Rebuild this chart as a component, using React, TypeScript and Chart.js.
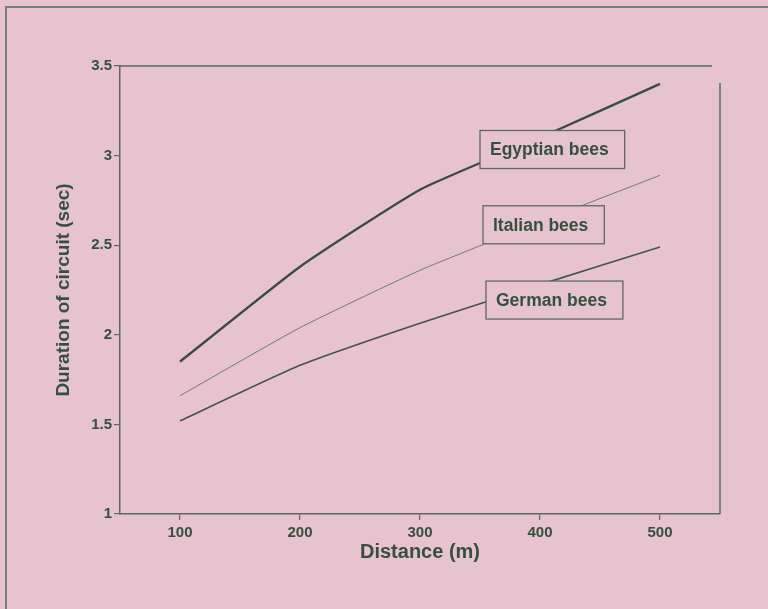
import React, { useEffect, useRef } from "react";
import { Chart, registerables } from "chart.js";

Chart.register(...registerables);

const distances = [100, 200, 300, 400, 500];
const egyptianBees = [1.85, 2.38, 2.81, 3.1, 3.4];
const italianBees = [1.66, 2.04, 2.36, 2.63, 2.89];
const germanBees = [1.52, 1.83, 2.065, 2.28, 2.49];
const xTickValues = [100, 200, 300, 400, 500];
const yTickValues = [1, 1.5, 2, 2.5, 3, 3.5];
const seriesNames = ["Egyptian bees", "Italian bees", "German bees"];
// label box anchors (top-left corner, in data units)
const labelAnchorX = [350, 352.5, 355];
const labelAnchorY = [3.14, 2.72, 2.3];

const PINK = "#e7c3d0";
const INK = "#34503f";
const LINE = "#3b4b43";
const AXIS = "#5a6a62";
const FONT = "'Liberation Sans', Arial, Helvetica, sans-serif";

const decorPlugin = {
  id: "decor",
  beforeDraw(chart: any) {
    const { ctx, width, height } = chart;
    ctx.save();
    ctx.fillStyle = PINK;
    ctx.fillRect(0, 0, width, height);
    ctx.strokeStyle = "#6f827a";
    ctx.lineWidth = 2;
    ctx.beginPath();
    ctx.moveTo(6, height);
    ctx.lineTo(6, 7);
    ctx.lineTo(width, 7);
    ctx.stroke();
    ctx.restore();
  },
  afterDraw(chart: any) {
    const { ctx, chartArea } = chart;
    const xs = chart.scales.x;
    const ys = chart.scales.y;
    ctx.save();
    ctx.strokeStyle = AXIS;
    ctx.lineWidth = 1.5;
    ctx.beginPath();
    ctx.moveTo(chartArea.left, chartArea.top);
    ctx.lineTo(chartArea.right - 8, chartArea.top);
    ctx.moveTo(chartArea.right, chartArea.top + 17);
    ctx.lineTo(chartArea.right, chartArea.bottom);
    ctx.stroke();

    ctx.font = `bold 17.5px ${FONT}`;
    ctx.textBaseline = "middle";
    ctx.textAlign = "left";
    seriesNames.forEach((name, i) => {
      const left = xs.getPixelForValue(labelAnchorX[i]);
      const top = ys.getPixelForValue(labelAnchorY[i]);
      const tw = ctx.measureText(name).width;
      const w = tw + 26;
      const h = 38;
      ctx.fillStyle = PINK;
      ctx.fillRect(left, top, w, h);
      ctx.strokeStyle = "#5a6b62";
      ctx.lineWidth = 1.3;
      ctx.strokeRect(left, top, w, h);
      ctx.fillStyle = INK;
      ctx.fillText(name, left + 10, top + h / 2 + 1);
    });
    ctx.restore();
  },
};

export default function App() {
  const ref = useRef<HTMLCanvasElement | null>(null);
  useEffect(() => {
    if (!ref.current) return;
    const chart = new Chart(ref.current, {
      type: "line",
      data: {
        labels: distances,
        datasets: [
          {
            label: seriesNames[0],
            data: distances.map((d, i) => ({ x: d, y: egyptianBees[i] })),
            borderColor: LINE,
            borderWidth: 2.3,
            pointRadius: 0,
            tension: 0.15,
          },
          {
            label: seriesNames[1],
            data: distances.map((d, i) => ({ x: d, y: italianBees[i] })),
            borderColor: "#6e7c74",
            borderWidth: 1,
            pointRadius: 0,
            tension: 0.15,
          },
          {
            label: seriesNames[2],
            data: distances.map((d, i) => ({ x: d, y: germanBees[i] })),
            borderColor: "#43524a",
            borderWidth: 1.6,
            pointRadius: 0,
            tension: 0.15,
          },
        ],
      },
      options: {
        animation: false,
        responsive: true,
        maintainAspectRatio: false,
        layout: { padding: { left: 0, right: 48, top: 66, bottom: 0 } },
        plugins: { legend: { display: false }, tooltip: { enabled: false } },
        scales: {
          x: {
            type: "linear",
            min: 50,
            max: 550,
            afterBuildTicks: (s: any) => {
              s.ticks = xTickValues.map((v) => ({ value: v }));
            },
            afterFit: (s: any) => {
              s.height = 95;
            },
            border: { display: true, color: AXIS, width: 1.5 },
            grid: { display: true, drawOnChartArea: false, drawTicks: true, tickLength: 6, color: AXIS, lineWidth: 1.2 },
            ticks: {
              color: INK,
              font: { family: FONT, size: 15, weight: "bold" },
              padding: 4,
              maxRotation: 0,
              callback: (v: any) => String(v),
            },
            title: {
              display: true,
              text: "Distance (m)",
              color: INK,
              font: { family: FONT, size: 20, weight: "bold" },
              padding: { top: 0, bottom: 45 },
            },
          },
          y: {
            type: "linear",
            min: 1,
            max: 3.5,
            afterBuildTicks: (s: any) => {
              s.ticks = yTickValues.map((v) => ({ value: v }));
            },
            afterFit: (s: any) => {
              s.width = 120;
            },
            border: { display: true, color: AXIS, width: 1.5 },
            grid: { display: true, drawOnChartArea: false, drawTicks: true, tickLength: 6, color: AXIS, lineWidth: 1.2 },
            ticks: {
              color: INK,
              font: { family: FONT, size: 15, weight: "bold" },
              padding: 2,
              callback: (v: any) => String(v),
            },
            title: {
              display: true,
              text: "Duration of circuit (sec)",
              color: INK,
              font: { family: FONT, size: 19, weight: "bold" },
              padding: { top: 52, bottom: 0 },
            },
          },
        },
      },
      plugins: [decorPlugin],
    } as any);
    return () => chart.destroy();
  }, []);
  return (
    <div style={{ position: "absolute", left: 0, top: 0, width: 768, height: 609 }}>
      <canvas ref={ref} />
    </div>
  );
}
